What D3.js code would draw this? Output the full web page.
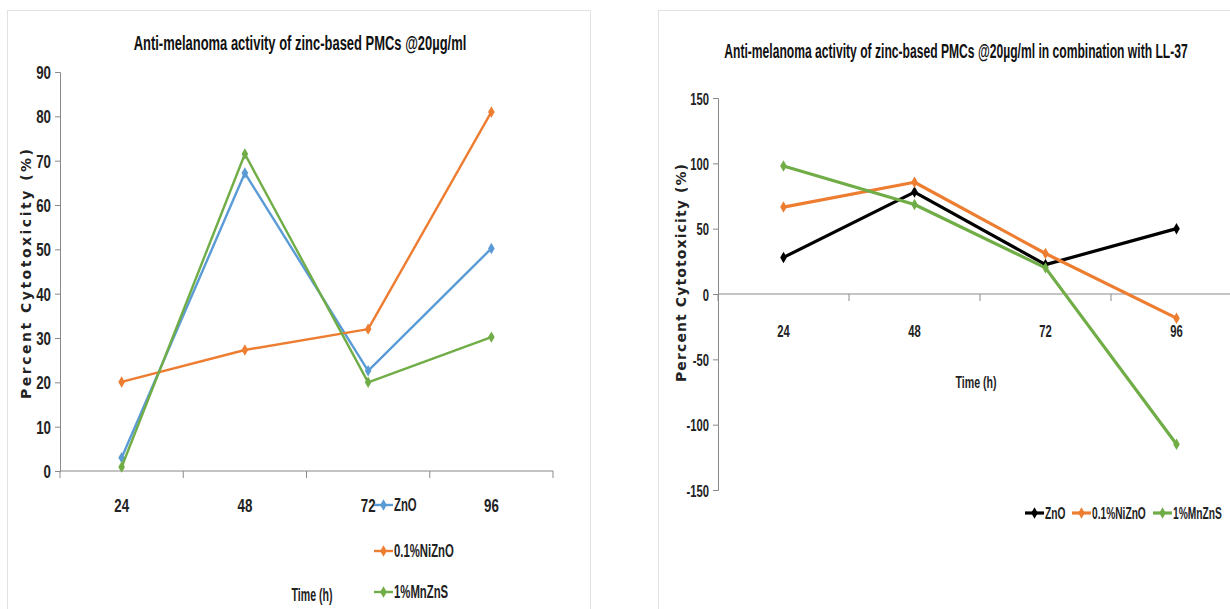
<!DOCTYPE html>
<html>
<head>
<meta charset="utf-8">
<script src="https://cdn.jsdelivr.net/npm/d3@7"></script>
<style>
  html, body { margin: 0; padding: 0; background: #fff; }
  svg { display: block; }
  .narrow { font-family: "Liberation Sans", Arial, sans-serif; font-weight: bold; fill: #222; }
  .ylab { font-family: "DejaVu Sans", Verdana, sans-serif; font-weight: bold; fill: #222; }
</style>
</head>
<body>
<svg id="chart" width="1230" height="609"></svg>
<script>
// Time points (hours)
const categories = ["24", "48", "72", "96"];
const seriesNames = ["ZnO", "0.1%NiZnO", "1%MnZnS"];

// Panel A: PMCs alone (% cytotoxicity)
const zno = [3, 67.2, 22.6, 50.2];
const niZno = [20.1, 27.3, 32, 81];
const mnZns = [0.9, 71.5, 20, 30.2];

// Panel B: PMCs combined with LL-37 (% cytotoxicity)
const znoLL = [28, 78, 22.5, 50];
const niZnoLL = [66.5, 85.5, 31, -18.5];
const mnZnsLL = [98, 68.5, 20, -115];

const ticksA = [0, 10, 20, 30, 40, 50, 60, 70, 80, 90];
const ticksB = [-150, -100, -50, 0, 50, 100, 150];

const svg = d3.select("#chart");

// condensed-looking text: a regular face squeezed horizontally
function ctext(parent, x, y, str, fs, f, anchor, width) {
  const t = parent.append("text").attr("class", "narrow").attr("font-size", fs)
    .attr("text-anchor", anchor || "start").text(str);
  if (width) f = width / t.node().getComputedTextLength();
  t.attr("transform", `translate(${x},${y}) scale(${f},1)`);
  return t;
}

// panel frames
svg.append("rect").attr("x", 7.5).attr("y", 10.5).attr("width", 583).attr("height", 610)
  .attr("fill", "none").attr("stroke", "#e2e2e2");
svg.append("rect").attr("x", 658.5).attr("y", 10.5).attr("width", 600).attr("height", 610)
  .attr("fill", "none").attr("stroke", "#e2e2e2");

function drawPanel(cfg) {
  const g = svg.append("g");
  const x = d3.scaleBand().domain(categories).range([cfg.x0, cfg.x1]);
  const y = d3.scaleLinear().domain(cfg.domain).range([cfg.yBottom, cfg.yTop]);

  // y axis
  const yAxis = g.append("g").attr("transform", `translate(${cfg.x0},0)`)
    .call(d3.axisLeft(y).tickValues(cfg.ticks).tickSize(5).tickPadding(4).tickFormat(d => String(d)));
  yAxis.attr("font-family", null).attr("font-size", null);
  yAxis.select(".domain").attr("stroke", "#8a8a8a");
  yAxis.selectAll(".tick line").attr("stroke", "#8a8a8a");
  yAxis.selectAll(".tick text").attr("class", "narrow").attr("fill", null)
    .attr("font-size", cfg.fs).attr("x", -9 / cfg.nf).attr("dy", "0.36em")
    .attr("transform", `scale(${cfg.nf},1)`);

  // x axis at zero
  const xAxis = g.append("g").attr("transform", `translate(0,${y(0)})`)
    .call(d3.axisBottom(x).tickSize(0).tickFormat(() => ""));
  xAxis.select(".domain").attr("stroke", "#8a8a8a").attr("stroke-width", 1.2)
    .attr("d", `M${cfg.x0},0H${cfg.x1}`);
  // boundary tick marks between categories
  const bounds = categories.map(c => x(c)).concat([cfg.x1]);
  xAxis.selectAll("line.bt").data(bounds).enter().append("line")
    .attr("x1", d => d).attr("x2", d => d).attr("y1", 0).attr("y2", 7)
    .attr("stroke", "#8a8a8a");

  // category labels
  categories.forEach(c => ctext(g, x(c) + x.bandwidth() / 2, cfg.catY, c, cfg.fs, cfg.nf, "middle"));

  // series
  const line = d3.line().x((d, i) => x(categories[i]) + x.bandwidth() / 2).y(d => y(d));
  cfg.series.forEach((s, k) => {
    g.append("path").datum(s.values).attr("d", line).attr("fill", "none")
      .attr("stroke", cfg.colors[k]).attr("stroke-width", cfg.sw).attr("stroke-linejoin", "round");
    g.selectAll(null).data(s.values).enter().append("path")
      .attr("d", d3.symbol(d3.symbolDiamond, 38))
      .attr("transform", (d, i) => `translate(${x(categories[i]) + x.bandwidth() / 2},${y(d)})`)
      .attr("fill", cfg.colors[k]);
  });

  // title
  ctext(g, cfg.titleX, cfg.titleY, cfg.title, 21, 1, "middle", cfg.titleLen).style("fill", "#111");

  // axis titles
  ctext(g, cfg.timeX, cfg.timeY, "Time (h)", cfg.fs, 1, "middle", 41);
  g.append("text").attr("class", "ylab")
    .attr("transform", `translate(${cfg.ylabX},${cfg.ylabY}) rotate(-90)`)
    .attr("text-anchor", "middle").attr("font-size", 14)
    .attr("textLength", cfg.ylabLen).attr("lengthAdjust", "spacing")
    .text("Percent Cytotoxicity (%)");

  // legend
  cfg.legend.forEach((p, k) => {
    const lg = g.append("g").attr("transform", `translate(${p[0]},${p[1]})`);
    lg.append("line").attr("x1", 0).attr("x2", 19).attr("y1", 0).attr("y2", 0)
      .attr("stroke", cfg.colors[k]).attr("stroke-width", cfg.sw);
    lg.append("path").attr("d", d3.symbol(d3.symbolDiamond, 38))
      .attr("transform", "translate(9.5,0)").attr("fill", cfg.colors[k]);
    ctext(lg, 20, 6, seriesNames[k], cfg.fs, cfg.tf, "start");
  });
}

drawPanel({
  x0: 60, x1: 553, yBottom: 471, yTop: 72, domain: [0, 90], ticks: ticksA,
  fs: 18, nf: 0.74, tf: 0.63, sw: 2.4,
  catY: 512, colors: ["#5b9bd5", "#ed7d31", "#70ad47"],
  series: [{ values: zno }, { values: niZno }, { values: mnZns }],
  title: "Anti-melanoma activity of zinc-based PMCs @20µg/ml", titleX: 300, titleY: 50, titleLen: 333,
  timeX: 312, timeY: 601, ylabX: 31, ylabY: 274, ylabLen: 250,
  legend: [[374, 505], [374, 551], [374, 592]]
});

drawPanel({
  x0: 718, x1: 1242, yBottom: 490, yTop: 98, domain: [-150, 150], ticks: ticksB,
  fs: 17, nf: 0.66, tf: 0.6, sw: 3.2,
  catY: 337, colors: ["#000000", "#ed7d31", "#70ad47"],
  series: [{ values: znoLL }, { values: niZnoLL }, { values: mnZnsLL }],
  title: "Anti-melanoma activity of zinc-based PMCs @20µg/ml in combination with LL-37",
  titleX: 956, titleY: 58, titleLen: 464,
  timeX: 976, timeY: 388, ylabX: 686, ylabY: 273, ylabLen: 218,
  legend: [[1025, 513], [1072, 513], [1153, 513]]
});
</script>
</body>
</html>
